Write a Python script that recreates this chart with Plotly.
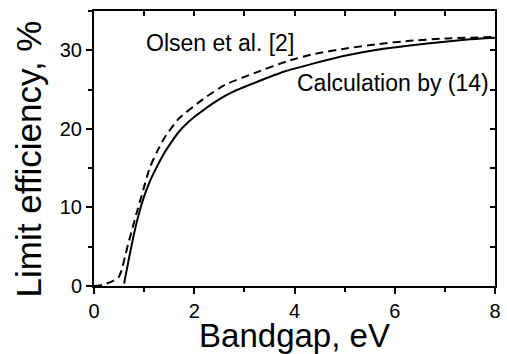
import plotly.graph_objects as go

# Calculation by (14) - solid
calc_x = [0.60, 0.70, 0.80, 0.90, 1.00, 1.10, 1.24, 1.40, 1.50, 1.69, 1.82, 2.00, 2.48, 2.80, 3.26, 3.80, 4.37, 5.00, 5.68, 6.30, 7.00, 7.50, 8.00]
calc_y = [0.3, 3.6, 6.7, 9.3, 11.4, 13.1, 15.0, 16.9, 17.9, 19.6, 20.5, 21.5, 23.7, 24.8, 26.0, 27.3, 28.3, 29.3, 30.1, 30.6, 31.1, 31.4, 31.6]

# Olsen et al. [2] - dashed
olsen_x = [0.0, 0.10, 0.20, 0.33, 0.49, 0.56, 0.62, 0.70, 0.77, 0.85, 0.95, 1.11, 1.25, 1.40, 1.69, 2.18, 2.61, 3.20, 3.85, 4.37, 5.00, 5.68, 6.30, 7.00, 8.00]
olsen_y = [0.0, 0.05, 0.2, 0.5, 1.1, 2.2, 3.8, 5.8, 7.4, 9.3, 11.5, 15.0, 17.0, 18.8, 21.3, 23.8, 25.6, 27.1, 28.6, 29.5, 30.2, 30.8, 31.2, 31.5, 31.7]

x_ticks = [0, 2, 4, 6, 8]
y_ticks = [0, 10, 20, 30]

FONT = "Arial, Liberation Sans, sans-serif"

fig = go.Figure()
fig.add_trace(go.Scatter(x=olsen_x, y=olsen_y, mode="lines",
                         line=dict(color="black", width=2, dash="8px,5px",
                                   shape="spline", smoothing=0.5),
                         showlegend=False))
fig.add_trace(go.Scatter(x=calc_x, y=calc_y, mode="lines",
                         line=dict(color="black", width=2, shape="spline", smoothing=0.5),
                         showlegend=False))
# dummy trace for mirrored axes
fig.add_trace(go.Scatter(x=[0], y=[0], xaxis="x2", yaxis="y2", mode="markers",
                         marker=dict(opacity=0), showlegend=False, hoverinfo="skip"))

fig.add_annotation(x=2.52, y=30.9, text="Olsen et al. [2]", showarrow=False,
                   xanchor="center", yanchor="middle",
                   font=dict(family=FONT, size=23, color="black"))
fig.add_annotation(x=5.97, y=25.9, text="Calculation by (14)", showarrow=False,
                   xanchor="center", yanchor="middle",
                   font=dict(family=FONT, size=23, color="black"))
# y-axis title (placed as annotation to match reference position)
fig.add_annotation(xref="paper", yref="paper", x=(27 - 94) / 407, y=(289 - 160) / 278,
                   text="Limit efficiency, %", textangle=-90, showarrow=False,
                   xanchor="center", yanchor="middle",
                   font=dict(family=FONT, size=35, color="black"))

axis_common = dict(showgrid=False, zeroline=False, showline=True,
                   linecolor="black", linewidth=2, tickcolor="black",
                   tickwidth=2)

fig.update_layout(
    width=507, height=354,
    margin=dict(l=94, r=6, t=11, b=65),
    plot_bgcolor="white", paper_bgcolor="white",
    font=dict(family=FONT, color="black"),
    xaxis=dict(range=[0, 8], tickvals=x_ticks, ticktext=[str(v) for v in x_ticks],
               ticks="outside", ticklen=6,
               minor=dict(dtick=1, ticks="outside", ticklen=4, tickcolor="black", tickwidth=2),
               tickfont=dict(size=20), title=dict(text="Bandgap, eV", font=dict(size=33), standoff=3),
               **axis_common),
    yaxis=dict(range=[0, 35], tickvals=y_ticks, ticktext=[str(v) for v in y_ticks],
               ticks="outside", ticklen=6,
               minor=dict(dtick=5, ticks="outside", ticklen=4, tickcolor="black", tickwidth=2),
               tickfont=dict(size=20),
               **axis_common),
    xaxis2=dict(range=[0, 8], overlaying="x", side="top", anchor="y2",
                tickvals=list(range(0, 9)), ticks="inside", ticklen=5,
                showticklabels=False, **axis_common),
    yaxis2=dict(range=[0, 35], overlaying="y", side="right", anchor="x2",
                tickvals=[0, 5, 10, 15, 20, 25, 30], ticks="inside", ticklen=5,
                showticklabels=False, **axis_common),
)

fig.write_html("out.html")
